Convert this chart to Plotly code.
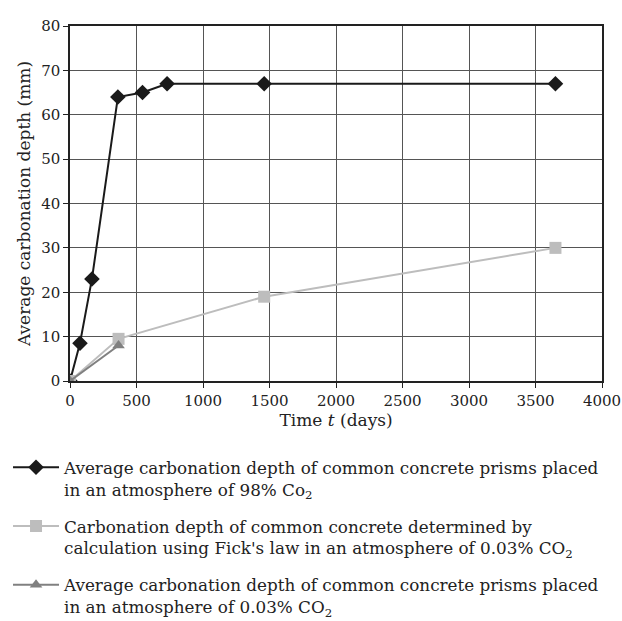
import plotly.graph_objects as go

# Data
days_98 = [0, 75, 165, 360, 545, 730, 1460, 3650]
depth_98 = [0, 8.5, 23, 64, 65, 67, 67, 67]

days_fick = [0, 365, 1460, 3650]
depth_fick = [0, 9.5, 19, 30]

days_003 = [0, 365]
depth_003 = [0, 8]

names = [
    "Average carbonation depth of common concrete prisms placed<br>in an atmosphere of 98% Co<sub>2</sub>",
    "Carbonation depth of common concrete determined by<br>calculation using Fick's law in an atmosphere of 0.03% CO<sub>2</sub>",
    "Average carbonation depth of common concrete prisms placed<br>in an atmosphere of 0.03% CO<sub>2</sub>",
]

FONT = "DejaVu Serif"

fig = go.Figure()
fig.add_trace(go.Scatter(x=days_98, y=depth_98, mode="lines+markers", name=names[0],
                         legendgroup="a",
                         line=dict(color="#1a1a1a", width=2),
                         marker=dict(symbol="diamond", size=12, color="#1a1a1a")))
fig.add_trace(go.Scatter(x=days_fick, y=depth_fick, mode="lines+markers", name=names[1],
                         legendgroup="b",
                         line=dict(color="#bdbdbd", width=2),
                         marker=dict(symbol="square", size=12, color="#bdbdbd")))
fig.add_trace(go.Scatter(x=days_003, y=depth_003, mode="lines+markers", name=names[2],
                         legendgroup="c",
                         line=dict(color="#808080", width=2),
                         marker=dict(symbol="triangle-up", size=11, color="#808080")))

fig.update_layout(
    width=622, height=621,
    margin=dict(l=70, r=20, t=26, b=240, autoexpand=False),
    plot_bgcolor="white", paper_bgcolor="white",
    font=dict(family=FONT, size=16, color="#222"),
    showlegend=True,
    legend=dict(x=-0.1165, y=-0.194, xanchor="left", yanchor="top",
                traceorder="grouped", tracegroupgap=12,
                font=dict(family=FONT, size=16.8, color="#222"),
                itemwidth=46, valign="top"),
    xaxis=dict(range=[0, 4000], dtick=500, showgrid=True, gridcolor="#555", gridwidth=1,
               showline=True, linecolor="#222", linewidth=1.5, mirror=True,
               ticks="outside", ticklen=5, tickcolor="#222", zeroline=False,
               tickfont=dict(size=15), ticklabeloverflow="allow",
               title=dict(text="Time <i>t</i> (days)", font=dict(size=17), standoff=4)),
    yaxis=dict(range=[0, 80], dtick=10, showgrid=True, gridcolor="#555", gridwidth=1,
               showline=True, linecolor="#222", linewidth=1.5, mirror=True,
               ticks="outside", ticklen=5, tickcolor="#222", zeroline=False,
               tickfont=dict(size=15), ticklabeloverflow="allow",
               title=dict(text="Average carbonation depth (mm)", font=dict(size=17), standoff=6)),
)

fig.write_html("out.html",
               config={"displayModeBar": False},
               post_script="document.body.style.margin='0';document.body.style.overflow='hidden';")
